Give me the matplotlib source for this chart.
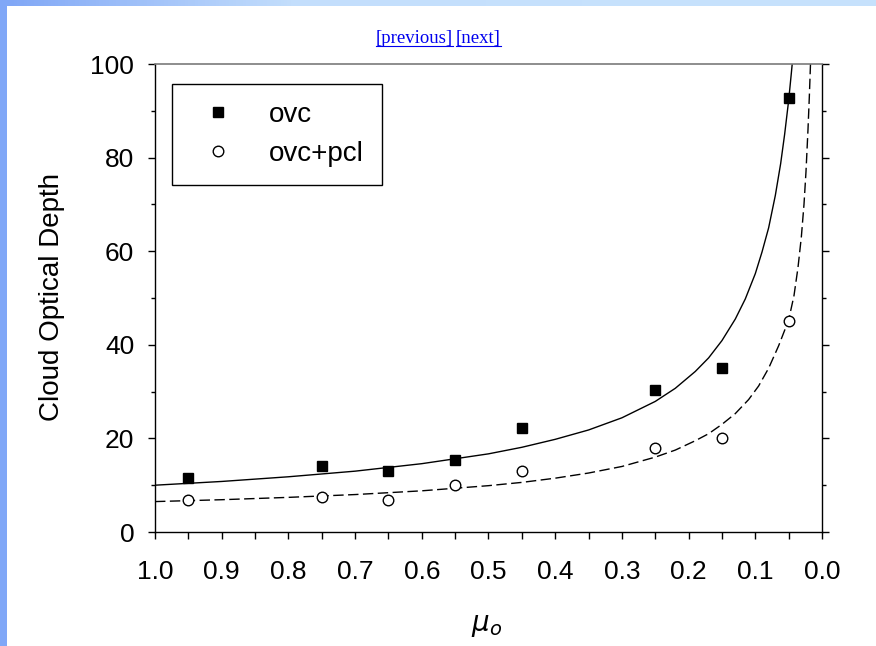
import numpy as np
import matplotlib
matplotlib.use("Agg")
import matplotlib.pyplot as plt
from matplotlib.patches import Rectangle
from matplotlib.lines import Line2D
from matplotlib.colors import LinearSegmentedColormap
from matplotlib.ticker import MultipleLocator, FormatStrFormatter

# observed points
mu_obs = [0.95, 0.75, 0.65, 0.55, 0.45, 0.25, 0.15, 0.05]
tau_ovc = [11.5, 14.2, 13.0, 15.3, 22.2, 30.3, 35.1, 92.8]
tau_pcl = [6.9, 7.5, 6.8, 10.0, 13.0, 18.0, 20.1, 45.1]

# fitted curves
mu_fit_ovc = [1.0, 0.9, 0.8, 0.7, 0.6, 0.5, 0.45, 0.4, 0.35, 0.3, 0.25, 0.22, 0.19,
              0.17, 0.15, 0.13, 0.115, 0.1, 0.09, 0.08, 0.07, 0.062, 0.056, 0.05,
              0.046, 0.044]
tau_fit_ovc = [10.0, 10.8, 11.8, 13.0, 14.6, 16.7, 18.1, 19.8, 21.8, 24.4, 27.9, 30.7,
               34.3, 37.2, 40.9, 45.5, 49.8, 55.2, 59.8, 65.0, 71.9, 78.7, 85.0, 92.2,
               98.0, 101.0]

mu_fit_pcl = [1.0, 0.9, 0.8, 0.7, 0.6, 0.5, 0.45, 0.4, 0.35, 0.3, 0.25, 0.22, 0.19,
              0.17, 0.15, 0.13, 0.11, 0.095, 0.08, 0.065, 0.05, 0.042, 0.036, 0.031,
              0.027, 0.024, 0.021, 0.019, 0.017]
tau_fit_pcl = [6.5, 6.9, 7.4, 8.0, 8.8, 9.9, 10.6, 11.5, 12.6, 14.0, 16.0, 17.5, 19.5,
               21.0, 23.0, 25.3, 28.3, 31.2, 35.0, 39.8, 45.3, 50.5, 56.5, 63.0, 70.0,
               77.0, 86.0, 93.0, 101.0]

plt.rcParams["font.family"] = ["Liberation Sans", "DejaVu Sans"]

fig = plt.figure(figsize=(8.76, 6.46), dpi=100, facecolor="white")

# page frame: blue strips on top and left
top_ax = fig.add_axes([0, 1 - 6 / 646, 1, 6 / 646])
grad = np.linspace(0, 1, 256)[None, :]
cmap = LinearSegmentedColormap.from_list("strip", ["#7fa6f6", "#c3defc", "#c6e1fc", "#c6e1fc"])
top_ax.imshow(grad, aspect="auto", cmap=cmap, extent=[0, 1, 0, 1])
top_ax.set_axis_off()
fig.patches.append(Rectangle((0, 0), 7 / 876, 1, transform=fig.transFigure,
                             facecolor="#80a7f7", edgecolor="none", zorder=5))

# links
link_kw = dict(fontsize=13.5, color="#0000ee", va="baseline",
               family=["Liberation Serif", "DejaVu Serif"])
t1 = fig.text(376 / 876, 1 - 43 / 646, "[previous]", ha="left", **link_kw)
t2 = fig.text(456 / 876, 1 - 43 / 646, "[next]", ha="left", **link_kw)

ax = fig.add_axes([155 / 876, 1 - 532 / 646, 667 / 876, 468 / 646])

ax.plot(mu_fit_ovc, tau_fit_ovc, color="black", linewidth=1.0, zorder=2)
ax.plot(mu_fit_pcl, tau_fit_pcl, color="black", linewidth=1.0,
        linestyle=(0, (7.5, 3.2)), zorder=2)
ax.plot(mu_obs, tau_ovc, linestyle="none", marker="s", markersize=7.3,
        color="black", label="ovc", zorder=3)
ax.plot(mu_obs, tau_pcl, linestyle="none", marker="o", markersize=7.6,
        markerfacecolor="white", markeredgecolor="black", markeredgewidth=1.0,
        label="ovc+pcl", zorder=3)

ax.set_xlim(1.0, 0.0)
ax.set_ylim(0, 100)
ax.xaxis.set_major_locator(MultipleLocator(0.1))
ax.xaxis.set_minor_locator(MultipleLocator(0.05))
ax.xaxis.set_major_formatter(FormatStrFormatter("%.1f"))
ax.yaxis.set_major_locator(MultipleLocator(20))
ax.yaxis.set_minor_locator(MultipleLocator(10))

ax.tick_params(axis="x", which="both", direction="out", length=5, width=1.0,
               labelsize=19, pad=15, top=False)
ax.tick_params(axis="y", which="major", direction="out", length=5, width=1.0,
               labelsize=19, pad=10, right=True)
ax.tick_params(axis="y", which="minor", direction="out", length=3, width=1.0, right=True)

for side in ["left", "bottom", "right"]:
    ax.spines[side].set_color("black")
    ax.spines[side].set_linewidth(1.0)
ax.spines["top"].set_color("#7a7a7a")
ax.spines["top"].set_linewidth(1.2)

fig.text(52 / 876, 1 - 297 / 646, "Cloud Optical Depth", rotation=90,
         ha="center", va="center", fontsize=20)
fig.text(487 / 876, 1 - 626 / 646, r"$\mu_o$", ha="center", va="center",
         fontsize=20, color="black")

leg = ax.legend(loc="upper left", bbox_to_anchor=(17 / 667, 1 - 20 / 468),
                fontsize=20, frameon=True, fancybox=False, edgecolor="black",
                framealpha=1, borderpad=0.65, labelspacing=0.45,
                handlelength=2.0, handletextpad=0.85, borderaxespad=0, numpoints=1)
leg.get_frame().set_linewidth(1.0)

# underline the links
fig.canvas.draw()
r = fig.canvas.get_renderer()
for t in (t1, t2):
    bb = t.get_window_extent(r)
    y = (bb.y0 + 1) / fig.bbox.height
    fig.lines.append(Line2D([bb.x0 / fig.bbox.width, bb.x1 / fig.bbox.width], [y, y],
                            transform=fig.transFigure, color="#0000ee", linewidth=0.8))

fig.savefig("out.png", dpi=100, facecolor="white")
